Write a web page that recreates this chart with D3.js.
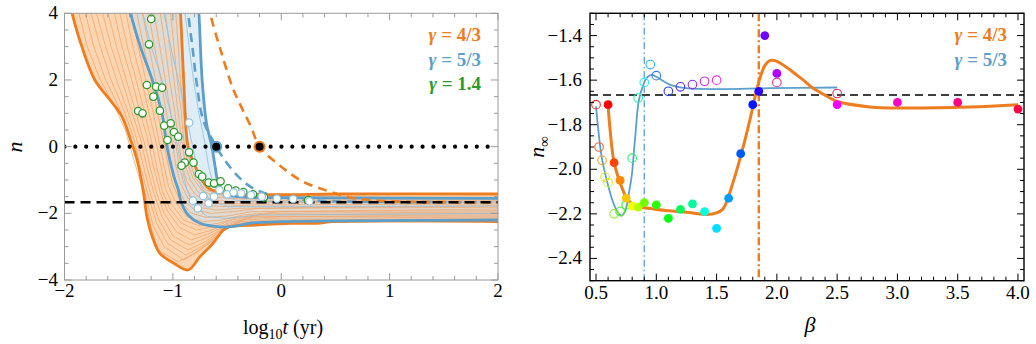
<!DOCTYPE html>
<html><head><meta charset="utf-8">
<script src="https://cdn.jsdelivr.net/npm/d3@7"></script>
<style>body{margin:0;background:#fff}svg{display:block}text{font-family:"Liberation Serif","Times New Roman",serif}</style>
</head><body><svg id="c" width="1036" height="344"></svg>
<script>
// ---------- LEFT PANEL DATA (log10 t, n) ----------
const leftXTicks = [-2, -1, 0, 1, 2];
const leftYTicks = [-4, -2, 0, 2, 4];
const orangeEnvLeft = [[-1.95,4.3],[-1.93,4],[-1.84,3],[-1.72,2],[-1.58,1.4],[-1.47,0.9],[-1.39,0.2],[-1.33,-0.4],[-1.27,-1.4],[-1.24,-2.1],[-1.19,-2.7],[-1.12,-3.2],[-0.99,-3.5],[-0.86,-3.7],[-0.75,-3.3],[-0.63,-2.9],[-0.535,-2.5],[-0.48,-2.4],[-0.23,-2.35],[0.08,-2.3],[0.33,-2.3],[0.48,-2.25],[2.05,-2.25]];
const orangeEnvRight = [[-0.94,4.3],[-0.93,4],[-0.9,2],[-0.86,0],[-0.8,-0.55],[-0.74,-0.95],[-0.68,-1.22],[-0.58,-1.36],[-0.4,-1.42],[0,-1.44],[0.5,-1.42],[2.05,-1.42]];
const orangeThin = [
 [[-1.89,4.3],[-1.79,3],[-1.67,2],[-1.55,1.3],[-1.44,0.5],[-1.35,-0.5],[-1.26,-1.5],[-1.21,-2.3],[-1.14,-3.1],[-0.95,-3.45],[-0.8,-3.2],[-0.62,-2.8],[-0.5,-2.4],[-0.2,-2.3],[2.05,-2.22]],
 [[-1.83,4.3],[-1.73,3],[-1.62,2],[-1.5,1.2],[-1.4,0.4],[-1.32,-0.6],[-1.24,-1.6],[-1.18,-2.4],[-1.08,-3.0],[-0.9,-3.4],[-0.75,-3.1],[-0.6,-2.7],[-0.45,-2.35],[-0.2,-2.28],[2.05,-2.2]],
 [[-1.78,4.3],[-1.67,3],[-1.57,2],[-1.46,1.15],[-1.37,0.35],[-1.3,-0.6],[-1.22,-1.55],[-1.15,-2.3],[-1.05,-2.9],[-0.88,-3.25],[-0.72,-2.97],[-0.57,-2.6],[-0.41,-2.3],[-0.15,-2.24],[2.05,-2.18]],
 [[-1.73,4.3],[-1.62,3],[-1.52,2],[-1.42,1.1],[-1.34,0.3],[-1.27,-0.6],[-1.2,-1.5],[-1.13,-2.2],[-1.02,-2.8],[-0.86,-3.1],[-0.7,-2.85],[-0.55,-2.5],[-0.38,-2.25],[-0.1,-2.2],[2.05,-2.15]],
 [[-1.67,4.3],[-1.57,3],[-1.47,2],[-1.38,1.05],[-1.3,0.25],[-1.24,-0.6],[-1.17,-1.45],[-1.1,-2.1],[-1.0,-2.68],[-0.85,-2.95],[-0.68,-2.72],[-0.52,-2.42],[-0.34,-2.2],[-0.05,-2.15],[2.05,-2.11]],
 [[-1.62,4.3],[-1.52,3],[-1.43,2],[-1.34,1.0],[-1.27,0.2],[-1.21,-0.6],[-1.15,-1.4],[-1.08,-2.0],[-0.97,-2.55],[-0.83,-2.8],[-0.66,-2.6],[-0.5,-2.35],[-0.3,-2.15],[0,-2.1],[2.05,-2.08]],
 [[-1.56,4.3],[-1.47,3],[-1.38,2],[-1.3,1.0],[-1.23,0.2],[-1.18,-0.6],[-1.12,-1.35],[-1.05,-1.92],[-0.94,-2.42],[-0.8,-2.65],[-0.64,-2.5],[-0.47,-2.27],[-0.25,-2.1],[2.05,-2.04]],
 [[-1.51,4.3],[-1.42,3],[-1.34,2],[-1.26,1.0],[-1.2,0.2],[-1.15,-0.6],[-1.1,-1.3],[-1.03,-1.85],[-0.92,-2.3],[-0.78,-2.5],[-0.62,-2.4],[-0.45,-2.2],[-0.2,-2.05],[2.05,-2.0]],
 [[-1.45,4.3],[-1.37,3],[-1.29,2],[-1.22,1.0],[-1.16,0.2],[-1.11,-0.6],[-1.07,-1.25],[-1.0,-1.78],[-0.9,-2.2],[-0.75,-2.38],[-0.58,-2.3],[-0.4,-2.12],[-0.1,-2.0],[2.05,-1.96]],
 [[-1.4,4.3],[-1.32,3],[-1.25,2],[-1.18,1.0],[-1.13,0.2],[-1.08,-0.6],[-1.04,-1.2],[-0.97,-1.7],[-0.87,-2.1],[-0.73,-2.25],[-0.55,-2.2],[-0.35,-2.05],[0,-1.95],[2.05,-1.92]],
 [[-1.35,4.3],[-1.27,3],[-1.2,2],[-1.14,1.0],[-1.09,0.2],[-1.04,-0.6],[-1.0,-1.15],[-0.93,-1.65],[-0.83,-2.0],[-0.69,-2.12],[-0.5,-2.08],[-0.28,-1.95],[2.05,-1.87]],
 [[-1.3,4.3],[-1.22,3],[-1.16,2],[-1.1,1.0],[-1.05,0.2],[-1.01,-0.6],[-0.97,-1.1],[-0.9,-1.6],[-0.8,-1.9],[-0.65,-2.0],[-0.45,-1.95],[-0.2,-1.85],[2.05,-1.82]],
 [[-1.24,4.3],[-1.17,3],[-1.11,2],[-1.06,1.0],[-1.01,0.2],[-0.97,-0.6],[-0.93,-1.1],[-0.86,-1.55],[-0.76,-1.82],[-0.6,-1.9],[-0.38,-1.85],[2.05,-1.77]],
 [[-1.19,4.3],[-1.12,3],[-1.07,2],[-1.02,1.0],[-0.98,0.2],[-0.94,-0.6],[-0.9,-1.1],[-0.83,-1.5],[-0.72,-1.75],[-0.55,-1.8],[-0.3,-1.75],[2.05,-1.72]],
 [[-1.13,4.3],[-1.07,3],[-1.03,2],[-0.98,1.0],[-0.95,0.2],[-0.91,-0.6],[-0.87,-1.05],[-0.8,-1.42],[-0.68,-1.67],[-0.5,-1.72],[-0.1,-1.68],[2.05,-1.67]],
 [[-1.08,4.3],[-1.03,3],[-0.99,2],[-0.95,1.0],[-0.92,0.2],[-0.88,-0.6],[-0.84,-1.0],[-0.77,-1.35],[-0.65,-1.6],[-0.45,-1.65],[0,-1.62],[2.05,-1.62]],
 [[-1.03,4.3],[-0.99,3],[-0.96,2],[-0.92,1.0],[-0.9,0.2],[-0.86,-0.55],[-0.81,-0.97],[-0.73,-1.32],[-0.6,-1.52],[-0.38,-1.57],[2.05,-1.57]],
 [[-0.98,4.3],[-0.95,3],[-0.93,2],[-0.9,1.0],[-0.88,0.2],[-0.84,-0.5],[-0.79,-0.95],[-0.7,-1.3],[-0.55,-1.45],[-0.3,-1.5],[2.05,-1.52]]
];
const blueEnvLeft = [[-1.41,4.3],[-1.39,4],[-1.3,3],[-1.19,2],[-1.1,1],[-1.055,0],[-0.99,-0.9],[-0.95,-1.3],[-0.92,-1.7],[-0.86,-2.05],[-0.75,-2.3],[-0.6,-2.4],[-0.45,-2.4],[-0.3,-2.3],[0,-2.25],[2.05,-2.2]];
const blueEnvRight = [[-0.77,4.3],[-0.76,4],[-0.73,2],[-0.69,0.7],[-0.64,0],[-0.61,-0.6],[-0.58,-1.1],[-0.52,-1.4],[-0.4,-1.5],[0,-1.53],[2.05,-1.55]];
const blueThin = [
 [[-1.3,4.3],[-1.2,3],[-1.1,2],[-1.02,1],[-0.97,0.2],[-0.92,-0.6],[-0.87,-1.3],[-0.8,-1.8],[-0.68,-2.1],[-0.5,-2.15],[-0.2,-2.05],[2.05,-2.0]],
 [[-1.1,4.3],[-1.02,3],[-0.95,2],[-0.88,1],[-0.83,0.2],[-0.78,-0.6],[-0.74,-1.2],[-0.66,-1.6],[-0.5,-1.8],[-0.2,-1.8],[2.05,-1.78]],
 [[-0.9,4.3],[-0.85,3],[-0.81,2],[-0.76,1],[-0.71,0.2],[-0.67,-0.6],[-0.63,-1.1],[-0.56,-1.45],[-0.4,-1.62],[0,-1.65],[2.05,-1.65]]
];
const blueDashed = [[-0.87,4.3],[-0.86,4],[-0.82,3],[-0.78,1.9],[-0.72,0.8],[-0.6,0],[-0.5,-0.5],[-0.38,-0.95],[-0.26,-1.25],[-0.1,-1.45],[0.1,-1.57],[0.4,-1.63],[1,-1.66],[2.05,-1.667]];
const orangeDashed = [[-0.665,4.3],[-0.655,4],[-0.56,2.9],[-0.44,1.7],[-0.28,0.6],[-0.2,0],[0,-0.6],[0.2,-1.05],[0.42,-1.32],[0.6,-1.5],[0.8,-1.6],[1.1,-1.65],[1.5,-1.665],[2.05,-1.667]];
const crossPoints = [{t:-0.6, n:0, g:"5/3"}, {t:-0.2, n:0, g:"4/3"}];
const greenPts = [[-1.2,3.83],[-1.22,3.07],[-1.24,1.85],[-1.155,1.8],[-1.1,1.77],[-1.18,1.5],[-1.32,1.07],[-1.28,1.0],[-1.12,1.08],[-1.08,0.63],[-1.02,0.7],[-0.99,0.44],[-0.95,0.3],[-1.05,0.2],[-0.85,-0.17],[-0.89,-0.48],[-0.92,-0.57],[-0.81,-0.48],[-0.76,-0.82],[-0.73,-0.9],[-0.67,-1.08],[-0.62,-1.1],[-0.56,-1.04],[-0.49,-1.25],[-0.42,-1.32],[-0.35,-1.36],[-0.26,-1.43],[-0.16,-1.52],[0.25,-1.6]];
const whitePts = [[-0.85,0.72],[-0.815,-1.62],[-0.77,-1.85],[-0.72,-1.48],[-0.67,-1.7],[-0.62,-1.5],[-0.57,-1.3],[-0.5,-1.43],[-0.44,-1.37],[-0.37,-1.4],[-0.28,-1.45],[-0.18,-1.5],[-0.04,-1.56],[0.11,-1.57],[0.26,-1.64]];
const nRef = -5/3;

// ---------- RIGHT PANEL DATA (beta, n_inf) ----------
const rightXTicks = [0.5,1.0,1.5,2.0,2.5,3.0,3.5,4.0];
const rightYTicks = [-2.4,-2.2,-2.0,-1.8,-1.6,-1.4];
const betaFilled = [0.6,0.65,0.7,0.75,0.8,0.85,0.9,1.0,1.1,1.2,1.3,1.4,1.5,1.6,1.7,1.8,1.85,1.9,2.0,2.5,3.0,3.5,4.0];
const nFilled    = [-1.71,-1.97,-2.05,-2.13,-2.165,-2.17,-2.15,-2.16,-2.22,-2.18,-2.155,-2.19,-2.265,-2.13,-1.93,-1.71,-1.65,-1.40,-1.57,-1.71,-1.70,-1.70,-1.73];
const betaOpen = [0.5,0.525,0.55,0.575,0.6,0.65,0.7,0.75,0.8,0.85,0.9,0.95,1.0,1.1,1.2,1.3,1.4,1.5,2.0,2.5];
const nOpen    = [-1.71,-1.90,-1.96,-2.035,-2.06,-2.20,-2.19,-2.16,-1.95,-1.68,-1.61,-1.53,-1.58,-1.65,-1.63,-1.62,-1.605,-1.60,-1.61,-1.66];
const fit43 = [[0.6,-1.71],[0.616,-1.82],[0.65,-1.97],[0.7,-2.06],[0.754,-2.13],[0.8,-2.155],[0.865,-2.168],[0.975,-2.178],[1.1,-2.186],[1.25,-2.193],[1.42,-2.203],[1.5,-2.196],[1.55,-2.18],[1.58,-2.15],[1.63,-2.07],[1.68,-1.98],[1.73,-1.88],[1.78,-1.77],[1.82,-1.673],[1.86,-1.59],[1.9,-1.535],[1.94,-1.512],[1.98,-1.512],[2.03,-1.524],[2.1,-1.55],[2.16,-1.575],[2.22,-1.60],[2.3,-1.636],[2.36,-1.655],[2.44,-1.68],[2.5,-1.696],[2.77,-1.72],[3.05,-1.725],[3.6,-1.72],[4.0,-1.71]];
const fit53 = [[0.5,-1.718],[0.519,-1.823],[0.546,-1.942],[0.588,-2.047],[0.643,-2.15],[0.69,-2.2],[0.713,-2.208],[0.735,-2.195],[0.754,-2.166],[0.775,-2.1],[0.796,-2.03],[0.823,-1.867],[0.856,-1.688],[0.892,-1.621],[0.92,-1.59],[0.96,-1.576],[1.0,-1.585],[1.117,-1.621],[1.25,-1.636],[1.527,-1.64],[1.94,-1.636],[2.5,-1.633]];
const betaCrit53 = 0.9, betaCrit43 = 1.85;

// ---------- STYLE ----------
const ORANGE = "#ee7d1f", ORANGE_THIN = "#f4a261", ORANGE_FILL = "#fccfa6";
const BLUE = "#5c9fcb", BLUE_FILL = "#c4dfef", BLUE_THIN = "#8fc0de";
const GREEN = "#2e9a2e";
const FONT = "Liberation Serif, Times New Roman, serif";

const svg = d3.select("#c").attr("font-family", FONT);

// ================= LEFT PANEL =================
const xL = d3.scaleLinear().domain([-2,2]).range([64.5,498]);
const yL = d3.scaleLinear().domain([-4,4]).range([280,13.3]);
const gL = svg.append("g");
svg.append("clipPath").attr("id","clipL").append("rect")
  .attr("x",xL(-2)).attr("y",yL(4)).attr("width",xL(2)-xL(-2)).attr("height",yL(-4)-yL(4));
const pl = gL.append("g").attr("clip-path","url(#clipL)");
const lineL = d3.line().x(d=>xL(d[0])).y(d=>yL(d[1])).curve(d3.curveCatmullRom.alpha(0.5));
const lineLin = d3.line().x(d=>xL(d[0])).y(d=>yL(d[1]));
function band(a,b){ return lineL(a) + lineL(b.slice().reverse()).replace(/^M/,"L") + "Z"; }

pl.append("path").attr("d",band(orangeEnvLeft,orangeEnvRight)).attr("fill",ORANGE_FILL).attr("opacity",0.85);
pl.append("path").attr("d",band(blueEnvLeft,blueEnvRight)).attr("fill",BLUE_FILL).attr("opacity",0.55);
orangeThin.forEach(c=>pl.append("path").attr("d",lineLin(c)).attr("fill","none").attr("stroke",ORANGE_THIN).attr("stroke-width",0.8).attr("opacity",0.9));
blueThin.forEach(c=>pl.append("path").attr("d",lineLin(c)).attr("fill","none").attr("stroke",BLUE_THIN).attr("stroke-width",0.9).attr("opacity",0.9));
[orangeEnvLeft,orangeEnvRight].forEach(c=>pl.append("path").attr("d",lineL(c)).attr("fill","none").attr("stroke",ORANGE).attr("stroke-width",2.8));
[blueEnvLeft,blueEnvRight].forEach(c=>pl.append("path").attr("d",lineL(c)).attr("fill","none").attr("stroke",BLUE).attr("stroke-width",2.8));
pl.append("path").attr("d",lineL(blueDashed)).attr("fill","none").attr("stroke",BLUE).attr("stroke-width",2.6).attr("stroke-dasharray","9,6");
pl.append("path").attr("d",lineL(orangeDashed)).attr("fill","none").attr("stroke",ORANGE).attr("stroke-width",2.6).attr("stroke-dasharray","9,6");
pl.append("line").attr("x1",xL(-2)).attr("x2",xL(2)).attr("y1",yL(0)).attr("y2",yL(0))
  .attr("stroke","#000").attr("stroke-width",4.2).attr("stroke-linecap","round").attr("stroke-dasharray","0,10.85");
pl.append("line").attr("x1",xL(-2)).attr("x2",xL(2)).attr("y1",yL(nRef)).attr("y2",yL(nRef))
  .attr("stroke","#000").attr("stroke-width",2.6).attr("stroke-dasharray","10,6");
pl.selectAll(".gp").data(greenPts).join("circle").attr("cx",d=>xL(d[0])).attr("cy",d=>yL(d[1])).attr("r",3.7)
  .attr("fill","#fff").attr("stroke",GREEN).attr("stroke-width",1.3);
pl.selectAll(".wp").data(whitePts).join("circle").attr("cx",d=>xL(d[0])).attr("cy",d=>yL(d[1])).attr("r",3.7)
  .attr("fill","#fff").attr("stroke",BLUE_THIN).attr("stroke-width",1.2);
pl.selectAll(".cp").data(crossPoints).join("circle").attr("cx",d=>xL(d.t)).attr("cy",d=>yL(d.n)).attr("r",5)
  .attr("fill","#000").attr("stroke",d=>d.g==="5/3"?BLUE:ORANGE).attr("stroke-width",2);

const FR_L = "#9a9a9a";
gL.append("rect").attr("x",xL(-2)).attr("y",yL(4)).attr("width",xL(2)-xL(-2)).attr("height",yL(-4)-yL(4))
  .attr("fill","none").attr("stroke",FR_L).attr("stroke-width",1);
function ticks(g, scale, vals, orient, pos, len, color){
  vals.forEach(v=>{
    const p = scale(v);
    let l;
    if(orient==="b") l=[p,pos,p,pos-len];
    if(orient==="t") l=[p,pos,p,pos+len];
    if(orient==="l") l=[pos,p,pos+len,p];
    if(orient==="r") l=[pos,p,pos-len,p];
    g.append("line").attr("x1",l[0]).attr("y1",l[1]).attr("x2",l[2]).attr("y2",l[3]).attr("stroke",color).attr("stroke-width",1);
  });
}
const lxMinor = d3.range(-2,2.001,0.2).map(v=>+v.toFixed(2)).filter(v=>!leftXTicks.includes(v));
const lyMinor = d3.range(-4,4.001,0.5).filter(v=>!leftYTicks.includes(v));
ticks(gL,xL,leftXTicks,"b",yL(-4),7,FR_L); ticks(gL,xL,lxMinor,"b",yL(-4),4,FR_L);
ticks(gL,xL,leftXTicks,"t",yL(4),7,FR_L); ticks(gL,xL,lxMinor,"t",yL(4),4,FR_L);
ticks(gL,yL,leftYTicks,"l",xL(-2),7,FR_L); ticks(gL,yL,lyMinor,"l",xL(-2),4,FR_L);
ticks(gL,yL,leftYTicks,"r",xL(2),7,FR_L); ticks(gL,yL,lyMinor,"r",xL(2),4,FR_L);
const fmtInt = d3.format("d");
gL.selectAll(".xl").data(leftXTicks).join("text").attr("x",d=>xL(d)).attr("y",297).attr("text-anchor","middle")
  .attr("font-size",19).text(d=>fmtInt(d));
gL.selectAll(".yl").data(leftYTicks).join("text").attr("x",58).attr("y",d=>yL(d)+6).attr("text-anchor","end")
  .attr("font-size",19).text(d=>fmtInt(d));
gL.append("text").attr("transform","translate(22,147) rotate(-90)").attr("text-anchor","middle")
  .attr("font-size",22).attr("font-style","italic").text("n");
const xlab = gL.append("text").attr("x",283).attr("y",334).attr("text-anchor","middle").attr("font-size",20);
xlab.append("tspan").text("log");
xlab.append("tspan").attr("font-size",14).attr("dy",5).text("10");
xlab.append("tspan").attr("dy",-5).attr("font-style","italic").text("t");
xlab.append("tspan").text(" (yr)");
const legL = [{t:"4/3",c:ORANGE,y:41},{t:"5/3",c:BLUE,y:66},{t:"1.4",c:GREEN,y:90}];
legL.forEach(d=>{
  const t = gL.append("text").attr("x",481).attr("y",d.y).attr("text-anchor","end").attr("font-size",19)
    .attr("font-weight","bold").attr("fill",d.c);
  t.append("tspan").attr("font-style","italic").text("γ");
  t.append("tspan").text(" = "+d.t);
});

// ================= RIGHT PANEL =================
const xR = d3.scaleLinear().domain([0.45,4.05]).range([590,1024]);
const yR = d3.scaleLinear().domain([-2.5,-1.3]).range([280.7,13.3]);
const gR = svg.append("g");
svg.append("clipPath").attr("id","clipR").append("rect")
  .attr("x",xR(0.45)).attr("y",yR(-1.3)).attr("width",xR(4.05)-xR(0.45)).attr("height",yR(-2.5)-yR(-1.3));
const pr = gR.append("g").attr("clip-path","url(#clipR)");
const lineR = d3.line().x(d=>xR(d[0])).y(d=>yR(d[1])).curve(d3.curveCatmullRom.alpha(0.5));

pr.append("line").attr("x1",xR(0.45)).attr("x2",xR(4.05)).attr("y1",yR(nRef)).attr("y2",yR(nRef))
  .attr("stroke","#000").attr("stroke-width",1.6).attr("stroke-dasharray","8,5");
pr.append("line").attr("x1",xR(betaCrit53)).attr("x2",xR(betaCrit53)).attr("y1",yR(-1.3)).attr("y2",yR(-2.5))
  .attr("stroke",BLUE).attr("stroke-width",1.3).attr("stroke-dasharray","7,3,1.5,3");
pr.append("line").attr("x1",xR(betaCrit43)).attr("x2",xR(betaCrit43)).attr("y1",yR(-1.3)).attr("y2",yR(-2.5))
  .attr("stroke",ORANGE).attr("stroke-width",2.4).attr("stroke-dasharray","8,3,2,3");

const hueOf = (i,n)=> i/n*360;
const openData = betaOpen.map((b,i)=>({b, n:nOpen[i], c:d3.hsl(hueOf(i,betaOpen.length),0.85,0.55).toString()}));
const fillData = betaFilled.map((b,i)=>({b, n:nFilled[i], c:d3.hsl(hueOf(i,betaFilled.length),1,0.5).toString()}));

pr.append("path").attr("d",lineR(fit53)).attr("fill","none").attr("stroke",BLUE).attr("stroke-width",1.8);
pr.selectAll(".op").data(openData).join("circle").attr("cx",d=>xR(d.b)).attr("cy",d=>yR(d.n)).attr("r",4.3)
  .attr("fill","none").attr("stroke",d=>d.c).attr("stroke-width",1.1);
pr.append("path").attr("d",lineR(fit43)).attr("fill","none").attr("stroke",ORANGE).attr("stroke-width",3);
pr.selectAll(".fp").data(fillData).join("circle").attr("cx",d=>xR(d.b)).attr("cy",d=>yR(d.n)).attr("r",4.4)
  .attr("fill",d=>d.c);

gR.append("rect").attr("x",xR(0.45)).attr("y",yR(-1.3)).attr("width",xR(4.05)-xR(0.45)).attr("height",yR(-2.5)-yR(-1.3))
  .attr("fill","none").attr("stroke","#000").attr("stroke-width",1.4);
const rxMinor = d3.range(0.5,4.001,0.1).map(v=>+v.toFixed(2)).filter(v=>!rightXTicks.some(t=>Math.abs(t-v)<1e-6));
const ryMinor = d3.range(-2.5,-1.299,0.05).map(v=>+v.toFixed(2)).filter(v=>!rightYTicks.some(t=>Math.abs(t-v)<1e-6));
ticks(gR,xR,rightXTicks,"b",yR(-2.5),7,"#000"); ticks(gR,xR,rxMinor,"b",yR(-2.5),4,"#000");
ticks(gR,xR,rightXTicks,"t",yR(-1.3),7,"#000"); ticks(gR,xR,rxMinor,"t",yR(-1.3),4,"#000");
ticks(gR,yR,rightYTicks,"l",xR(0.45),7,"#000"); ticks(gR,yR,ryMinor,"l",xR(0.45),4,"#000");
ticks(gR,yR,rightYTicks,"r",xR(4.05),7,"#000"); ticks(gR,yR,ryMinor,"r",xR(4.05),4,"#000");
const fmt1 = d3.format(".1f");
gR.selectAll(".xr").data(rightXTicks).join("text").attr("x",d=>xR(d)).attr("y",299).attr("text-anchor","middle")
  .attr("font-size",19).text(d=>fmt1(d));
gR.selectAll(".yr").data(rightYTicks).join("text").attr("x",582).attr("y",d=>yR(d)+6).attr("text-anchor","end")
  .attr("font-size",19).text(d=>fmt1(d));
const ylabR = gR.append("text").attr("transform","translate(544,147) rotate(-90)").attr("text-anchor","middle").attr("font-size",22);
ylabR.append("tspan").attr("font-style","italic").text("n");
ylabR.append("tspan").attr("font-size",15).attr("dy",5).text("∞");
gR.append("text").attr("x",810).attr("y",332).attr("text-anchor","middle").attr("font-size",22).attr("font-style","italic").text("β");
const legR = [{t:"4/3",c:ORANGE,y:41},{t:"5/3",c:BLUE,y:66}];
legR.forEach(d=>{
  const t = gR.append("text").attr("x",1007).attr("y",d.y).attr("text-anchor","end").attr("font-size",19)
    .attr("font-weight","bold").attr("fill",d.c);
  t.append("tspan").attr("font-style","italic").text("γ");
  t.append("tspan").text(" = "+d.t);
});
</script></body></html>
